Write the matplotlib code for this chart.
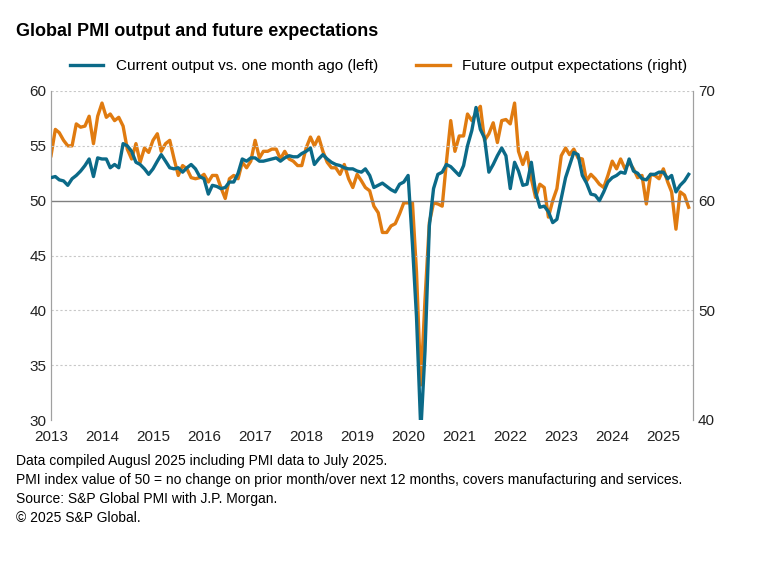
import matplotlib.pyplot as plt
import pandas as pd

plt.rcParams['font.family'] = ['Liberation Sans', 'DejaVu Sans']

# current output index (left axis), monthly Jan 2013 - Jul 2025
output = [
    52.1, 52.2, 51.9, 51.8, 51.4, 52.0, 52.3, 52.7, 53.2, 53.8, 52.2, 53.9,  # 2013
    53.8, 53.8, 53.0, 53.3, 53.0, 55.2, 55.0, 54.5, 53.5, 53.3, 52.9, 52.4,  # 2014
    52.9, 53.6, 54.2, 53.6, 53.0, 52.9, 53.0, 52.6, 53.0, 53.3, 52.9, 52.2,  # 2015
    52.0, 50.6, 51.4, 51.3, 51.1, 51.2, 51.7, 51.7, 52.5, 53.8, 53.6, 53.9,  # 2016
    53.9, 53.6, 53.6, 53.7, 53.8, 53.9, 53.6, 53.9, 54.1, 54.0, 54.0, 54.3,  # 2017
    54.5, 54.8, 53.3, 53.8, 54.2, 53.8, 53.5, 53.3, 53.2, 53.0, 52.9, 52.9,  # 2018
    52.7, 52.6, 52.9, 52.3, 51.2, 51.4, 51.6, 51.3, 51.0, 50.8, 51.5, 51.7,  # 2019
    52.3, 46.0, 39.4, 29.0, 36.3, 47.7, 51.1, 52.4, 52.6, 53.3, 53.1, 52.7,  # 2020
    52.3, 53.2, 55.0, 56.4, 58.5, 56.5, 55.7, 52.6, 53.3, 54.1, 54.8, 54.1,  # 2021
    51.1, 53.5, 52.7, 51.4, 51.5, 53.5, 50.8, 49.4, 49.5, 49.0, 48.0, 48.3,  # 2022
    50.2, 52.1, 53.2, 54.4, 54.2, 52.3, 51.6, 50.6, 50.5, 50.0, 50.8, 51.7,  # 2023
    52.1, 52.3, 52.6, 52.5, 53.8, 52.7, 52.5, 52.0, 51.9, 52.4, 52.4, 52.6,  # 2024
    52.6, 52.0, 52.3, 50.8, 51.4, 51.8, 52.4,                                # 2025
]

# future output expectations (right axis, index = left value + 10)
expect_left = [
    54.1, 56.5, 56.2, 55.5, 55.0, 55.0, 57.0, 56.7, 56.8, 57.7, 55.2, 57.7,  # 2013
    58.9, 57.6, 57.9, 57.3, 57.6, 56.8, 54.7, 53.8, 55.2, 53.5, 54.8, 54.4,  # 2014
    55.5, 56.1, 54.5, 55.2, 55.5, 53.8, 52.3, 53.2, 52.9, 52.1, 52.0, 52.1,  # 2015
    52.4, 51.7, 52.3, 52.3, 51.2, 50.2, 52.0, 52.3, 52.0, 53.5, 53.0, 53.6,  # 2016
    55.5, 53.9, 54.5, 54.5, 54.7, 54.7, 53.8, 54.5, 53.8, 53.6, 53.2, 53.2,  # 2017
    54.8, 55.8, 55.0, 55.8, 54.5, 53.5, 53.0, 53.0, 52.4, 53.3, 52.0, 51.2,  # 2018
    52.4, 51.8, 51.2, 50.9, 49.5, 48.9, 47.1, 47.1, 47.7, 47.9, 48.8, 49.8,  # 2019
    49.8, 49.8, 43.5, 33.2, 41.0, 48.0, 49.8, 49.7, 49.5, 53.5, 57.3, 54.5,  # 2020
    55.9, 55.9, 57.9, 57.3, 58.0, 58.6, 55.5, 56.1, 57.1, 55.3, 57.3, 57.4,  # 2021
    57.0, 58.9, 54.5, 53.3, 54.4, 52.0, 50.3, 51.5, 51.2, 48.5, 50.0, 51.1,  # 2022
    54.1, 54.8, 54.2, 54.7, 53.9, 53.8, 51.8, 52.4, 52.0, 51.5, 51.2, 52.3,  # 2023
    53.6, 52.9, 53.8, 52.9, 53.5, 52.9, 52.1, 52.3, 49.7, 52.4, 52.3, 52.0,  # 2024
    52.9, 51.7, 50.8, 47.4, 50.8, 50.5, 49.4,                                # 2025
]
expect = [v + 10 for v in expect_left]

dates = pd.date_range('2013-01-01', periods=len(output), freq='MS')
years = list(range(2013, 2026))

blue = '#0b6a88'
orange = '#e07b10'

fig = plt.figure(figsize=(7.57, 5.61), dpi=100)
ax = fig.add_axes([51/757, 1 - 420/561, 642/757, 329/561])
ax2 = ax.twinx()

l1, = ax.plot(dates, output, color=blue, lw=2.4, zorder=3)
l2, = ax2.plot(dates, expect, color=orange, lw=2.4, zorder=3)
ax.set_zorder(ax2.get_zorder() + 1)
ax.patch.set_visible(False)

ax.set_ylim(30, 60)
ax2.set_ylim(40, 70)
ax.set_yticks(range(30, 61, 5))
ax2.set_yticks(range(40, 71, 10))
ax.set_xlim(dates[0], pd.Timestamp('2025-08-01'))
ax.set_xticks([pd.Timestamp(f'{y}-01-01') for y in years])
ax.set_xticklabels([str(y) for y in years])

for y in range(35, 61, 5):
    if y != 50:
        ax.axhline(y, color='#c8c8c8', lw=0.8, ls=(0, (2, 2)), zorder=1)
ax.axhline(50, color='#808080', lw=1.0, zorder=2)

for a in (ax, ax2):
    a.spines['top'].set_visible(False)
    a.spines['left'].set_color('#a0a0a0')
    a.spines['right'].set_color('#a0a0a0')
    a.spines['bottom'].set_visible(False)
    a.tick_params(labelsize=11, colors='#222222', length=0)
ax.tick_params(axis='x', length=0, pad=7)

fig.text(16/757, 1 - 32/561, 'Global PMI output and future expectations',
         fontsize=13, fontweight='bold', va='center')
fig.legend([l1, l2], ['Current output vs. one month ago (left)',
                      'Future output expectations (right)'],
           loc='center', bbox_to_anchor=(0.5, 1 - 66/561), ncol=2,
           frameon=False, fontsize=11, handlelength=2.2, columnspacing=2.5)

notes = ['Data compiled Augusl 2025 including PMI data to July 2025.',
         'PMI index value of 50 = no change on prior month/over next 12 months, covers manufacturing and services.',
         'Source: S&P Global PMI with J.P. Morgan.',
         '\u00a9 2025 S&P Global.']
for i, t in enumerate(notes):
    fig.text(16/757, 1 - (461 + i * 19)/561, t, fontsize=10, va='center')

fig.savefig('out.png', dpi=100)
